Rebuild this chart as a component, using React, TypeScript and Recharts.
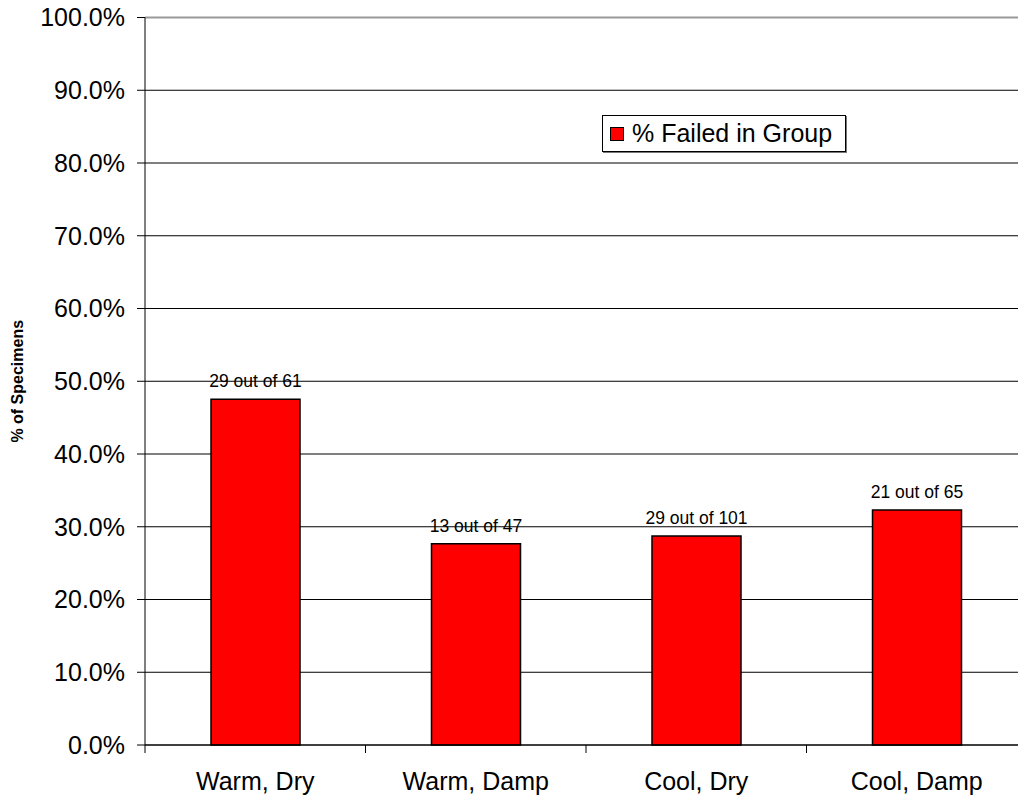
import React from 'react';
import { BarChart, Bar, XAxis, YAxis, CartesianGrid, LabelList, Legend, ReferenceLine } from 'recharts';

const categories = ['Warm, Dry', 'Warm, Damp', 'Cool, Dry', 'Cool, Damp'];
const failedCounts = [29, 13, 29, 21];
const totalCounts = [61, 47, 101, 65];
const yTicks = [0, 0.1, 0.2, 0.3, 0.4, 0.5, 0.6, 0.7, 0.8, 0.9, 1.0];
const seriesName = '% Failed in Group';
const yLabel = '% of Specimens';

const data = categories.map((c, i) => ({
  name: c,
  pct: failedCounts[i] / totalCounts[i],
  label: `${failedCounts[i]} out of ${totalCounts[i]}`,
}));

const FONT = '"Liberation Sans", Arial, Helvetica, sans-serif';

const XTick = (props: any) => {
  const { x, y, payload, index, visibleTicksCount } = props;
  const off = payload.offset || 0;
  return (
    <g>
      <line x1={x - off} x2={x - off} y1={y} y2={y + 8} stroke="#000" strokeWidth={1} />
      {index === visibleTicksCount - 1 && (
        <line x1={x + off} x2={x + off} y1={y} y2={y + 8} stroke="#000" strokeWidth={1} />
      )}
      <text x={x} y={y + 45} textAnchor="middle" fontSize={25} fontFamily={FONT} fill="#000">
        {payload.value}
      </text>
    </g>
  );
};

const BarLabel = (props: any) => {
  const { x, y, width, index } = props;
  return (
    <text x={x + width / 2} y={y - 12} textAnchor="middle" fontSize={17.5} fontFamily={FONT} fill="#000">
      {data[index].label}
    </text>
  );
};

const YLabel = (props: any) => {
  const { viewBox } = props;
  const cy = viewBox.y + viewBox.height / 2;
  const cx = 23;
  return (
    <text
      x={cx}
      y={cy}
      textAnchor="middle"
      fontSize={16}
      fontWeight="bold"
      fontFamily={FONT}
      fill="#000"
      transform={`rotate(-90, ${cx}, ${cy})`}
    >
      {yLabel}
    </text>
  );
};

const LegendContent = () => (
  <div
    style={{
      width: 244,
      height: 37,
      boxSizing: 'border-box',
      border: '1px solid #000',
      boxShadow: '1px 1px 0 #777',
      background: '#fff',
      display: 'flex',
      alignItems: 'center',
      paddingLeft: 7,
      fontFamily: FONT,
      fontSize: 25,
      color: '#000',
      whiteSpace: 'nowrap',
    }}
  >
    <span
      style={{
        display: 'inline-block',
        width: 14,
        height: 14,
        boxSizing: 'border-box',
        background: '#FF0000',
        border: '1px solid #000',
        marginRight: 8,
      }}
    />
    <span>{seriesName}</span>
  </div>
);

export default function App() {
  return (
    <div style={{ position: 'fixed', left: 0, top: 0, width: 1018, height: 798, overflow: 'hidden', background: '#fff' }}>
      <BarChart
        width={1040}
        height={798}
        data={data}
        margin={{ top: 17.5, right: 13, bottom: 0, left: 0 }}
      >
        <CartesianGrid vertical={false} stroke="#000" strokeWidth={1} />
        <ReferenceLine y={1} stroke="#999" strokeWidth={2} />
        <XAxis
          dataKey="name"
          height={53}
          axisLine={{ stroke: '#000', strokeWidth: 1 }}
          tickLine={false}
          tickSize={0}
          tickMargin={0}
          interval={0}
          tick={<XTick />}
        />
        <YAxis
          width={145}
          domain={[0, 1]}
          ticks={yTicks}
          interval={0}
          tickSize={8}
          tickMargin={12}
          axisLine={{ stroke: '#000', strokeWidth: 1 }}
          tickLine={{ stroke: '#000', strokeWidth: 1 }}
          tick={{ fontSize: 25, fontFamily: FONT, fill: '#000' }}
          tickFormatter={(v: number) => `${(v * 100).toFixed(1)}%`}
          label={<YLabel />}
        />
        <Legend
          layout="horizontal"
          verticalAlign="middle"
          align="center"
          content={<LegendContent />}
          wrapperStyle={{ position: 'absolute', left: 602, top: 115, width: 'auto', height: 'auto' }}
        />
        <Bar
          dataKey="pct"
          name={seriesName}
          fill="#FF0000"
          stroke="#000"
          strokeWidth={1.5}
          barSize={89}
          isAnimationActive={false}
        >
          <LabelList dataKey="pct" content={<BarLabel />} />
        </Bar>
      </BarChart>
    </div>
  );
}
